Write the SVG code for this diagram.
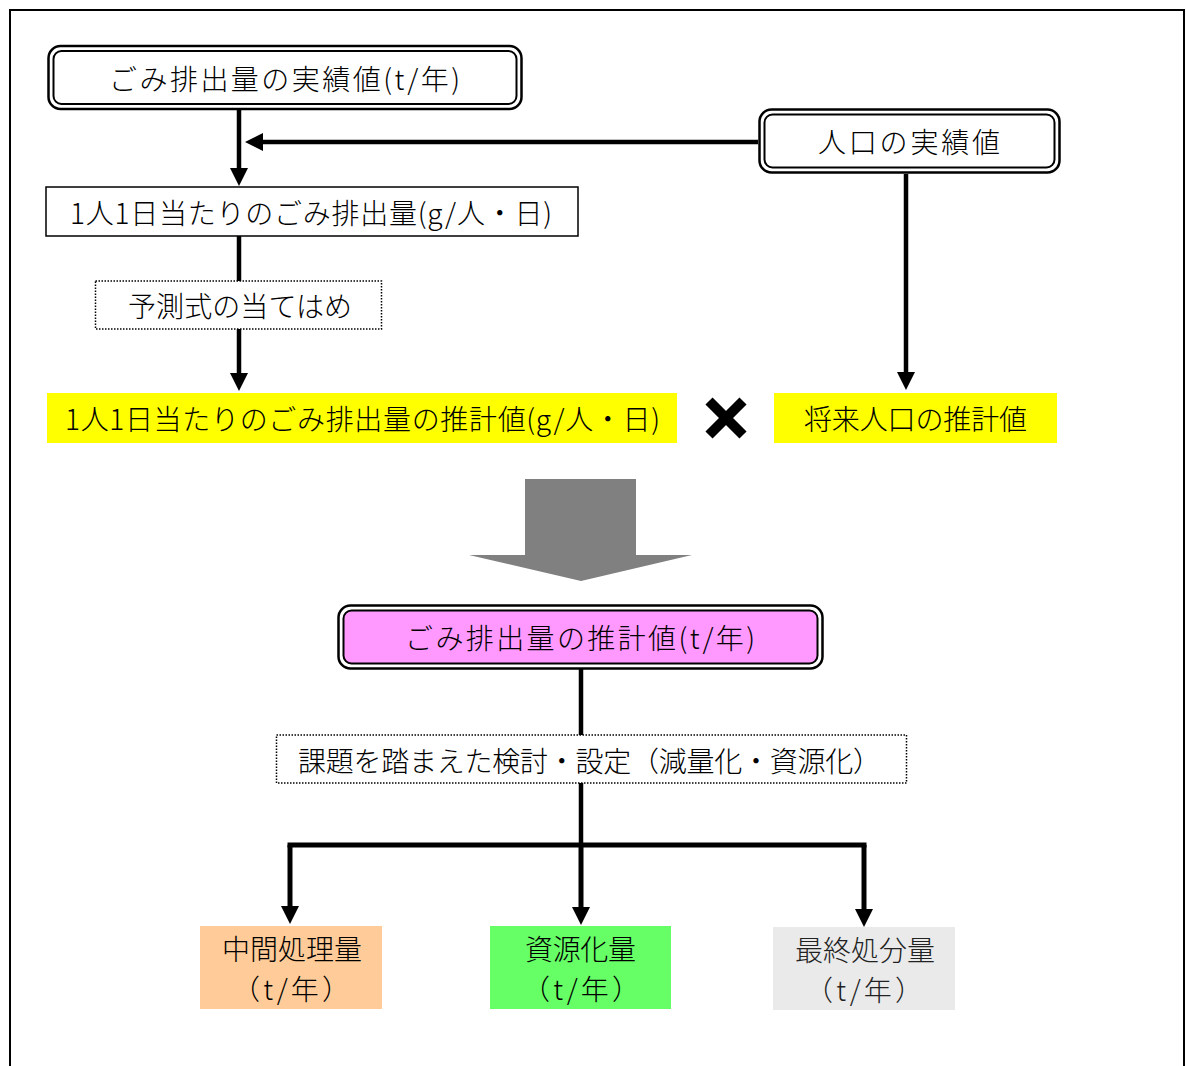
<svg xmlns="http://www.w3.org/2000/svg" width="1186" height="1066" viewBox="0 0 1186 1066">
  <style>
    text { font-family: "Noto Sans CJK JP", "Noto Sans", sans-serif; font-size: 28px; font-weight: 300; fill: #000; dominant-baseline: central; }
    .frame { fill: none; stroke: #000; stroke-width: 2; }
    .dbl-out { fill: #fff; stroke: #000; stroke-width: 2.5; }
    .dbl-in { fill: #fff; stroke: #000; stroke-width: 2; }
    .dbl-in.pink { fill: #ff99ff; }
    .plain { fill: #fff; stroke: #000; stroke-width: 1.5; }
    .dotted { fill: #fff; stroke: #000; stroke-width: 1.5; stroke-dasharray: 1.5 1.5; }
    .yellow { fill: #ffff00; }
    .conn { fill: none; stroke: #000; stroke-width: 4.5; }
    .conn.wide { stroke-width: 5; }
    .conn-head { marker-end: url(#head); }
    .grey-text { fill: #222; }
  </style>
  <defs>
    <marker id="head" viewBox="0 0 18 18" refX="10" refY="9" markerWidth="18" markerHeight="18" markerUnits="userSpaceOnUse" orient="auto">
      <path d="M0 0 L18 9 L0 18 Z" fill="#000"/>
    </marker>
  </defs>

  <!-- outer frame (open at the bottom) -->
  <path class="frame" d="M10 1070 V10 H1184 V1070"/>

  <!-- connectors -->
  <g id="connectors">
    <path class="conn conn-head" d="M239 110 V178"/>
    <path class="conn conn-head" d="M758 142 H253"/>
    <path class="conn" d="M239 236 V281"/>
    <path class="conn conn-head" d="M239 329 V383"/>
    <path class="conn conn-head" d="M906 174 V382"/>
    <path class="conn" d="M581 669 V735"/>
    <path class="conn" d="M581 783 V845"/>
    <path class="conn wide" stroke-linecap="square" d="M290 845 H864"/>
    <path class="conn wide conn-head" d="M290 845 V916"/>
    <path class="conn wide conn-head" d="M581 845 V917"/>
    <path class="conn wide conn-head" d="M864 845 V919"/>
  </g>

  <!-- actual waste amount -->
  <g id="node-actual-waste">
    <rect class="dbl-out" x="48.5" y="46" width="473" height="63" rx="12"/>
    <rect class="dbl-in" x="53.5" y="51" width="463" height="53" rx="8"/>
    <text x="109" y="78" textLength="351" lengthAdjust="spacing">ごみ排出量の実績値(t/年)</text>
  </g>

  <!-- actual population -->
  <g id="node-actual-population">
    <rect class="dbl-out" x="759.5" y="109.5" width="300" height="63" rx="12"/>
    <rect class="dbl-in" x="764.5" y="114.5" width="290" height="53" rx="8"/>
    <text x="818" y="141" textLength="182" lengthAdjust="spacing">人口の実績値</text>
  </g>

  <!-- per-capita daily amount -->
  <g id="node-per-capita">
    <rect class="plain" x="46" y="187" width="532" height="49"/>
    <text x="70" y="212" textLength="482" lengthAdjust="spacing">1人1日当たりのごみ排出量(g/人・日)</text>
  </g>

  <!-- forecast formula -->
  <g id="node-formula">
    <rect class="dotted" x="95.5" y="281" width="286" height="48"/>
    <text x="128" y="305" textLength="224" lengthAdjust="spacing">予測式の当てはめ</text>
  </g>

  <!-- estimated per-capita amount -->
  <g id="node-est-per-capita">
    <rect class="yellow" x="47" y="393" width="630" height="50"/>
    <text x="65" y="418" textLength="595" lengthAdjust="spacing">1人1日当たりのごみ排出量の推計値(g/人・日)</text>
  </g>

  <!-- multiplication sign -->
  <g id="node-times">
    <path d="M709 401 L743 435 M743 401 L709 435" stroke="#000" stroke-width="10" fill="none"/>
  </g>

  <!-- estimated future population -->
  <g id="node-est-population">
    <rect class="yellow" x="774" y="393" width="283" height="50"/>
    <text x="804" y="418" textLength="223" lengthAdjust="spacing">将来人口の推計値</text>
  </g>

  <!-- big grey arrow -->
  <g id="node-big-arrow">
    <path d="M525 479 H636 V555 H692 L581 581 L469 555 H525 Z" fill="#808080"/>
  </g>

  <!-- estimated waste amount -->
  <g id="node-est-waste">
    <rect class="dbl-out" x="338.5" y="605.5" width="484" height="63" rx="12"/>
    <rect class="dbl-in pink" x="343.5" y="610.5" width="474" height="53" rx="8"/>
    <text x="405" y="637" textLength="350" lengthAdjust="spacing">ごみ排出量の推計値(t/年)</text>
  </g>

  <!-- review and setting -->
  <g id="node-review">
    <rect class="dotted" x="276.5" y="735" width="630" height="48"/>
    <text x="298" y="760" textLength="583" lengthAdjust="spacing">課題を踏まえた検討・設定（減量化・資源化）</text>
  </g>

  <!-- intermediate treatment -->
  <g id="node-intermediate">
    <rect x="200" y="926" width="182" height="83" fill="#ffcc99"/>
    <text x="222" y="948" textLength="140" lengthAdjust="spacing">中間処理量</text>
    <text x="232" y="988" textLength="118" lengthAdjust="spacing">（t/年）</text>
  </g>

  <!-- recycling -->
  <g id="node-recycling">
    <rect x="490" y="926" width="181" height="83" fill="#66ff66"/>
    <text x="525" y="948" textLength="111" lengthAdjust="spacing">資源化量</text>
    <text x="522" y="988" textLength="118" lengthAdjust="spacing">（t/年）</text>
  </g>

  <!-- final disposal -->
  <g id="node-final-disposal">
    <rect x="773" y="927" width="182" height="83" fill="#eaeaea"/>
    <text class="grey-text" x="795" y="949" textLength="140" lengthAdjust="spacing">最終処分量</text>
    <text class="grey-text" x="805" y="989" textLength="118" lengthAdjust="spacing">（t/年）</text>
  </g>
</svg>
